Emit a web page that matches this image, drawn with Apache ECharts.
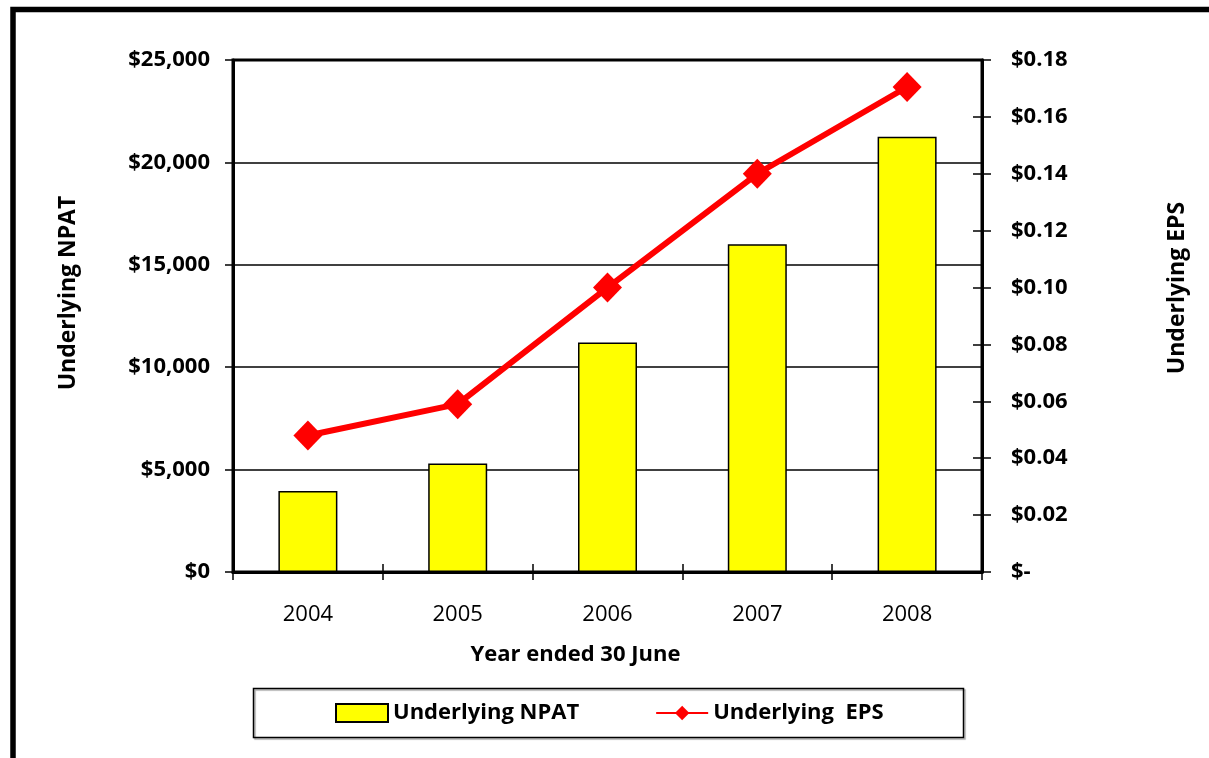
<!DOCTYPE html>
<html>
<head>
<meta charset="utf-8">
<title>Underlying NPAT and EPS</title>
<script src="https://cdn.jsdelivr.net/npm/echarts@6/dist/echarts.min.js"></script>
<style>
  html, body { margin: 0; padding: 0; background: #fff; }
  #chart { width: 1209px; height: 758px; }
</style>
</head>
<body>
<div id="chart"></div>
<script>
// Financial years and the two reported measures
const years = ['2004', '2005', '2006', '2007', '2008'];
const npat = [3950, 5300, 11200, 16000, 21250];        // Underlying NPAT ($'000)
const eps = [0.048, 0.059, 0.100, 0.140, 0.1705];      // Underlying EPS ($)

const FONT = '"Open Sans", "Noto Sans", sans-serif';

const chart = echarts.init(document.getElementById('chart'));

chart.setOption({
  backgroundColor: '#ffffff',
  animation: false,
  textStyle: { fontFamily: FONT, color: '#000' },
  grid: {
    left: 233, right: 227, top: 60, bottom: 186,
    show: true, borderColor: '#000', borderWidth: 3, backgroundColor: 'transparent'
  },
  legend: {
    left: 330,
    top: 697,
    itemWidth: 52,
    itemHeight: 18,
    itemGap: 76,
    textStyle: { fontFamily: FONT, fontSize: 22, fontWeight: 'bold', color: '#000' },
    data: [
      { name: 'Underlying NPAT', icon: 'rect' },
      { name: 'Underlying  EPS' }
    ]
  },
  xAxis: [
    {
      type: 'category',
      data: years,
      position: 'bottom',
      axisLine: { show: true, lineStyle: { color: '#000', width: 3 } },
      axisTick: { show: true, inside: false, length: 8, lineStyle: { color: '#000', width: 1.5 } },
      axisLabel: { fontFamily: FONT, fontSize: 22, color: '#000', margin: 32 },
      name: 'Year ended 30 June',
      nameLocation: 'middle',
      nameGap: 72,
      nameTextStyle: {
        fontFamily: FONT, fontSize: 22, fontWeight: 'bold', color: '#000',
        verticalAlign: 'top', padding: [0, 64, 0, 0]
      }
    },
    {
      // inner half of the category ticks
      type: 'category',
      data: years,
      position: 'bottom',
      axisLine: { show: false },
      axisTick: { show: true, inside: true, length: 8, lineStyle: { color: '#000', width: 1.5 } },
      axisLabel: { show: false }
    }
  ],
  yAxis: [
    {
      type: 'value',
      position: 'left',
      min: 0,
      max: 25000,
      interval: 5000,
      axisLine: { show: true, lineStyle: { color: '#000', width: 3 } },
      axisTick: { show: true, inside: false, length: 8, lineStyle: { color: '#000', width: 1.5 } },
      splitLine: { show: true, lineStyle: { color: '#000', width: 1.5 } },
      axisLabel: {
        fontFamily: FONT, fontSize: 22, fontWeight: 'bold', color: '#000', margin: 23,
        formatter: v => '$' + v.toLocaleString('en-US')
      },
      name: 'Underlying NPAT',
      nameLocation: 'middle',
      nameRotate: 90,
      nameGap: 153,
      nameTextStyle: {
        fontFamily: FONT, fontSize: 23, fontWeight: 'bold', color: '#000',
        padding: [0, 0, 0, 46]
      }
    },
    {
      type: 'value',
      position: 'right',
      min: 0,
      max: 0.18,
      interval: 0.02,
      axisLine: { show: true, lineStyle: { color: '#000', width: 3 } },
      axisTick: { show: true, inside: false, length: 9, lineStyle: { color: '#000', width: 1.5 } },
      splitLine: { show: false },
      axisLabel: {
        fontFamily: FONT, fontSize: 22, fontWeight: 'bold', color: '#000', margin: 29,
        formatter: v => (v === 0 ? '$-' : '$' + v.toFixed(2))
      },
      name: 'Underlying EPS',
      nameLocation: 'middle',
      nameRotate: 90,
      nameGap: 184,
      nameTextStyle: {
        fontFamily: FONT, fontSize: 23, fontWeight: 'bold', color: '#000',
        padding: [0, 0, 0, 56]
      }
    },
    {
      // inner half of the EPS ticks
      type: 'value',
      position: 'right',
      min: 0,
      max: 0.18,
      interval: 0.02,
      axisLine: { show: false },
      axisTick: { show: true, inside: true, length: 9, lineStyle: { color: '#000', width: 1.5 } },
      splitLine: { show: false },
      axisLabel: { show: false }
    }
  ],
  series: [
    {
      name: 'Underlying NPAT',
      type: 'bar',
      xAxisIndex: 0,
      yAxisIndex: 0,
      data: npat,
      barWidth: 59,
      itemStyle: { color: '#ffff00', borderColor: '#000', borderWidth: 1.5 }
    },
    {
      name: 'Underlying  EPS',
      type: 'line',
      xAxisIndex: 0,
      yAxisIndex: 1,
      data: eps,
      symbol: 'diamond',
      symbolSize: [29, 30],
      lineStyle: { color: '#ff0000', width: 6 },
      itemStyle: { color: '#ff0000' },
      z: 5
    }
  ],
  graphic: [
    {
      // outer frame (left and top edges)
      type: 'polyline',
      shape: { points: [[13, 800], [13, 9.5], [1240, 9.5]] },
      style: { stroke: '#000', lineWidth: 5.5, fill: null },
      z: 100
    },
    {
      // legend box
      type: 'rect',
      shape: { x: 253.5, y: 688.5, width: 710, height: 49 },
      style: { fill: 'transparent', stroke: '#000', lineWidth: 1.5, shadowColor: 'rgba(0,0,0,0.35)', shadowOffsetX: 1.5, shadowOffsetY: 1.5, shadowBlur: 1 },
      z: -1
    }
  ]
});
</script>
</body>
</html>
